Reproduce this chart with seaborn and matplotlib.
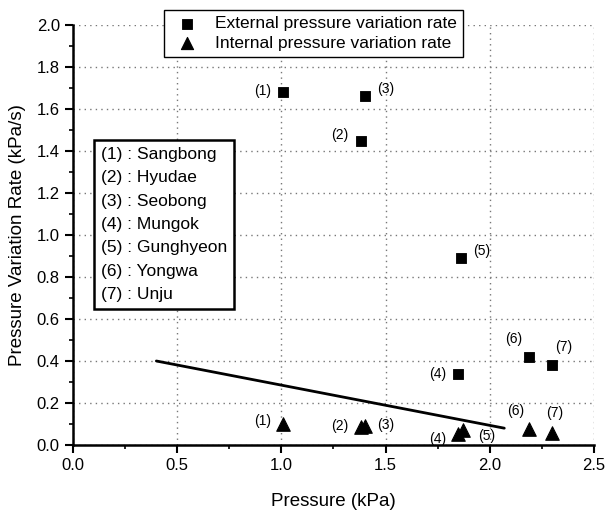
import numpy as np
import pandas as pd
import seaborn as sns
import matplotlib.pyplot as plt
from matplotlib.ticker import MultipleLocator

sites = ["(1)", "(2)", "(3)", "(4)", "(5)", "(6)", "(7)"]
site_names = ["Sangbong", "Hyudae", "Seobong", "Mungok", "Gunghyeon", "Yongwa", "Unju"]
pressure = [1.01, 1.38, 1.40, 1.85, 1.86, 2.19, 2.30]
external_rate = [1.68, 1.45, 1.66, 0.34, 0.89, 0.42, 0.38]
internal_pressure = [1.01, 1.38, 1.40, 1.85, 1.87, 2.19, 2.30]
internal_rate = [0.10, 0.085, 0.09, 0.05, 0.07, 0.075, 0.055]
line_x = [0.40, 2.07]
line_y = [0.40, 0.08]

sns.set_style("ticks")
plt.rcParams["font.family"] = ["Liberation Sans", "DejaVu Sans"]
plt.rcParams["text.color"] = "black"
plt.rcParams["axes.labelcolor"] = "black"

fig = plt.figure(figsize=(6.06, 5.11), dpi=100)
ax = fig.add_axes([0.1205, 0.1292, 0.8595, 0.8218])

ext = pd.DataFrame({"p": pressure, "r": external_rate})
intl = pd.DataFrame({"p": internal_pressure, "r": internal_rate})

sns.lineplot(x=line_x, y=line_y, color="black", lw=2, ax=ax)
sns.scatterplot(data=ext, x="p", y="r", marker="s", s=60, color="black",
                edgecolor="black", ax=ax, label="External pressure variation rate")
sns.scatterplot(data=intl, x="p", y="r", marker="^", s=95, color="black",
                edgecolor="black", ax=ax, label="Internal pressure variation rate")

# point labels
ext_off = [(-15, 1), (-15, 4), (15, 5), (-15, 0), (15, 5), (-11, 13), (8, 13)]
int_off = [(-15, 2), (-15, 1), (15, 1), (-15, -3), (17, -4), (-10, 13), (2, 15)]
for i, lab in enumerate(sites):
    ax.annotate(lab, (pressure[i], external_rate[i]), xytext=ext_off[i],
                textcoords="offset points", ha="center", va="center", fontsize=10)
    ax.annotate(lab, (internal_pressure[i], internal_rate[i]), xytext=int_off[i],
                textcoords="offset points", ha="center", va="center", fontsize=10)

ax.set_xlim(0, 2.5)
ax.set_ylim(0, 2.0)
ax.xaxis.set_major_locator(MultipleLocator(0.5))
ax.xaxis.set_minor_locator(MultipleLocator(0.25))
ax.yaxis.set_major_locator(MultipleLocator(0.2))
ax.yaxis.set_minor_locator(MultipleLocator(0.1))
ax.tick_params(which="major", direction="out", length=6, width=1.5, labelsize=12,
               colors="black")
ax.tick_params(which="minor", direction="out", length=3, width=1.2, colors="black")
ax.grid(True, which="major", linestyle=(0, (1, 3)), color="#777777", lw=1.0)
sns.despine(ax=ax)
for s in ["left", "bottom"]:
    ax.spines[s].set_linewidth(1.8)
    ax.spines[s].set_color("black")

ax.set_xlabel("Pressure (kPa)", fontsize=13.5, labelpad=14)
ax.set_ylabel("Pressure Variation Rate (kPa/s)", fontsize=13.5, labelpad=8)

leg = ax.legend(loc="upper left", bbox_to_anchor=(0.27, 0.98),
                bbox_transform=fig.transFigure, fontsize=12.5, frameon=True,
                fancybox=False, borderaxespad=0, handletextpad=0.6,
                borderpad=0.35, labelspacing=0.25, markerscale=0.9)
leg.get_frame().set_edgecolor("black")
leg.get_frame().set_linewidth(1.0)
leg.get_frame().set_alpha(1)

box_text = "\n".join(f"{s} : {n}" for s, n in zip(sites, site_names))
ax.text(0.135, 1.42, box_text, fontsize=12.5, va="top", ha="left", linespacing=1.7,
        bbox=dict(boxstyle="square,pad=0.4", facecolor="white", edgecolor="black", lw=1.8))

fig.savefig("out.png", dpi=100)
